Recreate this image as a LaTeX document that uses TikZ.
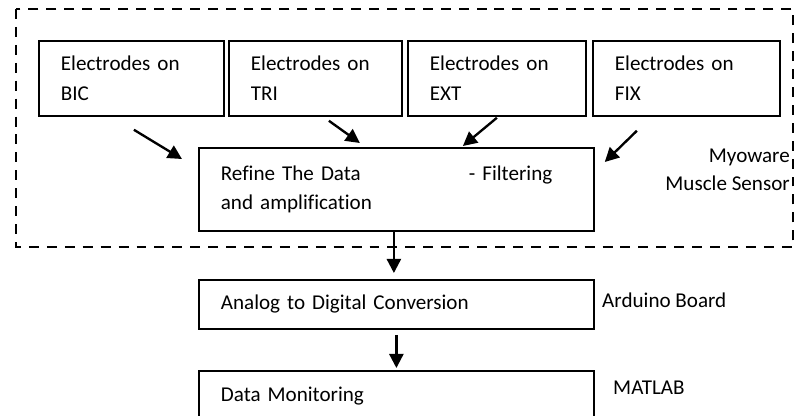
\documentclass[tikz,border=0pt]{standalone}
\usepackage{fontspec}
\setmainfont[Ligatures=NoCommon]{Carlito}
\usetikzlibrary{arrows.meta}
\tikzset{
blk/.style={draw,line width=1.5pt,anchor=north west,align=left,inner xsep=0.66cm,inner ysep=0pt,font=\fontsize{18}{25.4}\selectfont},
lbl/.style={inner sep=0pt,font=\fontsize{18}{24.4}\selectfont},
arr/.style={line width=2pt,-{Triangle[length=12pt,width=12pt]}},
frame/.style={line width=2.2pt,dash pattern=on 8.5pt off 6.8pt}
}
\providecommand{\Block}[5]{
\node[blk,text width=#3cm,minimum height=#4cm] (#1) at (#2) {#5};
}

\begin{document}
\begin{tikzpicture}[x=0.03cm,y=-0.03cm]
\useasboundingbox (0,0) rectangle (794,415);
\draw[frame] (16,9) rectangle (793,247);
\Block{bic}{38,40}{4.23}{2.25}{Electrodes on\\BIC}
\Block{tri}{228,40}{3.87}{2.25}{Electrodes on\\TRI}
\Block{ext}{407,40}{4.02}{2.25}{Electrodes on\\EXT}
\Block{fix}{592,40}{4.29}{2.25}{Electrodes on\\FIX}
\Block{refine}{198,147}{10.53}{2.49}{\makebox[7.44cm][l]{Refine The Data}- Filtering\\and amplification}
\Block{adc}{198,279}{10.53}{1.47}{Analog to Digital Conversion}
\Block{mon}{198,370}{10.53}{1.5}{Data Monitoring}
\node[lbl,anchor=east,align=right] (myo) at (790,170) {Myoware\\Muscle Sensor};
\node[lbl,anchor=west] (ard) at (602,300) {Arduino Board};
\node[lbl,anchor=west] (mat) at (613,388) {MATLAB};
\draw[arr] ([shift={(2.5,13)}]bic.south) -- ([shift={(-16,12)}]refine.north west);
\draw[arr] ([shift={(13.5,4)}]tri.south) -- ([shift={(-36.5,-4)}]refine.north);
\draw[arr] ([shift={(0,1)}]ext.south) -- ([shift={(66.5,-1)}]refine.north);
\draw[arr] ([shift={(-49.5,14)}]fix.south) -- ([shift={(10,15)}]refine.north east);
\draw[arr] ([shift={(-2.5,0)}]refine.south) -- ([shift={(-2.5,-6)}]adc.north);
\draw[arr] ([shift={(0,5)}]adc.south) -- ([shift={(0,-2)}]mon.north);
\end{tikzpicture}
\end{document}
